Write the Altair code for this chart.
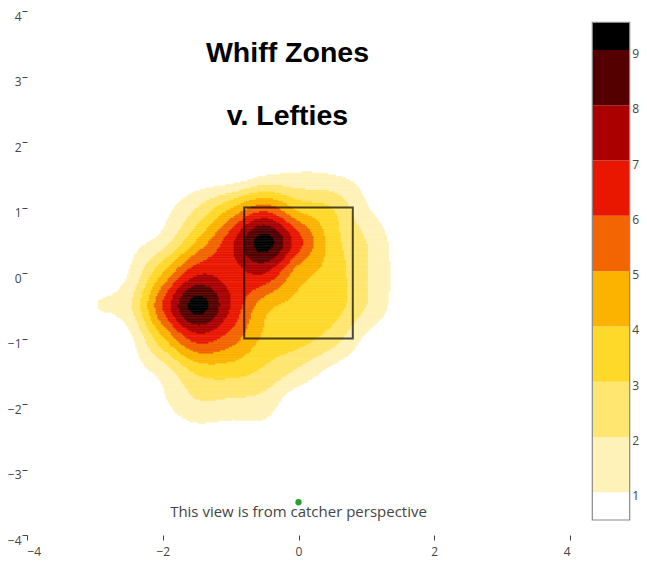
import altair as alt
import numpy as np
import pandas as pd

# ---------------- data ----------------
# z grid nodes of the whiff-density surface, 0.5 ft spacing
X_NODES = [-3.5, -3.0, -2.5, -2.0, -1.5, -1.0, -0.5, 0.0, 0.5, 1.0, 1.5, 2.0]
Y_NODES = [2.0, 1.5, 1.0, 0.5, 0.0, -0.5, -1.0, -1.5, -2.0, -2.5, -3.0]
z_y2p0 = [0, 0, 0, 0, 0, 0, 0.4, 0.6, 0.5, 0.2, 0, 0]
z_y1p5 = [0, 0, 0, 0, 0.2, 0.1, 0.9, 1.1, 1.0, 0.6, 0.1, 0]
z_y1p0 = [0, 0, 0.1, 0.6, 2.0, 3.9, 5.5, 3.7, 3.0, 1.1, 0.3, 0]
z_y0p5 = [0, 0.2, 0.6, 1.4, 4.0, 6.6, 9.4, 6.4, 3.5, 2.0, 0.5, 0]
z_y0p0 = [0, 0.4, 1.0, 4.0, 6.8, 6.6, 7.0, 4.5, 3.6, 2.05, 0.6, 0]
z_ym0p5 = [0.2, 0.95, 1.7, 6.0, 9.4, 7.0, 4.4, 3.7, 3.5, 2.0, 0.5, 0]
z_ym1p0 = [0, 0.3, 0.7, 3.8, 6.4, 5.5, 3.8, 3.4, 2.5, 0.8, 0.2, 0]
z_ym1p5 = [0, 0.1, 0.5, 1.4, 3.2, 3.4, 2.8, 1.8, 0.7, 0.2, 0, 0]
z_ym2p0 = [0, 0, 0.1, 0.8, 1.8, 1.7, 1.5, 0.2, 0.2, 0, 0, 0]
z_ym2p5 = [0, 0, 0, 0.3, 0.5, 0.4, 0.5, 0.3, 0, 0, 0, 0]
z_ym3p0 = [0, 0, 0, 0, 0, 0, 0, 0, 0, 0, 0, 0]
Z_ROWS = [z_y2p0, z_y1p5, z_y1p0, z_y0p5, z_y0p0, z_ym0p5, z_ym1p0,
          z_ym1p5, z_ym2p0, z_ym2p5, z_ym3p0]

# contour levels and band colours
LEVELS = [1, 2, 3, 4, 5, 6, 7, 8, 9]
BAND_COLORS = ["#ffffff", "#fff2b8", "#ffe671", "#ffd92a", "#fbb300",
               "#f26500", "#e91700", "#aa0000", "#550000", "#000000"]
CB_LOW = [0.5, 1, 2, 3, 4, 5, 6, 7, 8, 9]
CB_HIGH = [1, 2, 3, 4, 5, 6, 7, 8, 9, 9.5]

# strike zone
SZ_X = [-0.8, 0.8]
SZ_Y = [-1.0, 1.0]
# catcher marker
DOT_X = [0]
DOT_Y = [-3.5]

X_TICKS = [-4, -2, 0, 2, 4]
Y_TICKS = [-4, -3, -2, -1, 0, 1, 2, 3, 4]

# ------------- contour fill: smooth (cubic) interpolation between grid
# nodes, as a smoothed contour renderer does, then banded by level -------------
zg = np.array(Z_ROWS[::-1], dtype=float)      # rows ascending in y
xs = np.array(X_NODES)
ys = np.array(Y_NODES[::-1])
step = 0.025
fx = np.arange(xs[0], xs[-1], step) + step / 2
fy = np.arange(ys[0], ys[-1], step) + step / 2


def cubic_weights(nodes, pts):
    n = len(nodes)
    h = nodes[1] - nodes[0]
    Wm = np.zeros((len(pts), n))
    for r, p in enumerate(pts):
        i = int(np.clip(np.floor((p - nodes[0]) / h), 0, n - 2))
        t = (p - nodes[i]) / h
        w = [(-t ** 3 + 2 * t ** 2 - t) / 2, (3 * t ** 3 - 5 * t ** 2 + 2) / 2,
             (-3 * t ** 3 + 4 * t ** 2 + t) / 2, (t ** 3 - t ** 2) / 2]
        for k, wk in zip(range(i - 1, i + 3), w):
            Wm[r, int(np.clip(k, 0, n - 1))] += wk
    return Wm


zf = cubic_weights(ys, fy) @ zg @ cubic_weights(xs, fx).T

recs = []
for r, yc in enumerate(fy):
    band = np.searchsorted(LEVELS, zf[r], side="right")
    start = 0
    for k in range(1, len(fx) + 1):
        if k == len(fx) or band[k] != band[start]:
            if band[start] > 0:
                recs.append({"x1": fx[start] - step / 2, "x2": fx[k - 1] + step / 2,
                             "y1": yc - step / 2, "y2": yc + step / 2,
                             "band": int(band[start])})
            start = k
cells = pd.DataFrame(recs)

LEFT, TOP = 19, 3
W, H = 543, 524
RIGHT = 631 - LEFT - W          # keeps the page at 647 px wide
xsc = alt.Scale(domain=[-4, 4], nice=False, zero=False)
ysc = alt.Scale(domain=[-4, 4], nice=False, zero=False)
csc = alt.Scale(domain=list(range(10)), range=BAND_COLORS)

contour = alt.Chart(cells).mark_rect(strokeWidth=0.6).encode(
    x=alt.X("x1:Q", scale=xsc, axis=alt.Axis(values=X_TICKS, format="d", title=None,
                                              tickSize=5, labelPadding=6,
                                              grid=False, domain=False)),
    x2="x2:Q",
    y=alt.Y("y1:Q", scale=ysc, axis=alt.Axis(values=Y_TICKS, format="d", title=None,
                                              tickSize=5, labelPadding=1, labelOffset=5,
                                              grid=False, domain=False)),
    y2="y2:Q",
    color=alt.Color("band:O", scale=csc, legend=None),
    stroke=alt.Stroke("band:O", scale=csc, legend=None),
)

sz = alt.Chart(pd.DataFrame({"x1": [SZ_X[0]], "x2": [SZ_X[1]],
                             "y1": [SZ_Y[0]], "y2": [SZ_Y[1]]})).mark_rect(
    fillOpacity=0, stroke="#000000", strokeOpacity=0.7, strokeWidth=2).encode(
    x=alt.X("x1:Q", scale=xsc), x2="x2:Q", y=alt.Y("y1:Q", scale=ysc), y2="y2:Q")

dot = alt.Chart(pd.DataFrame({"x": DOT_X, "y": DOT_Y})).mark_circle(
    size=40, color="#2ca02c", opacity=1).encode(
    x=alt.X("x:Q", scale=xsc), y=alt.Y("y:Q", scale=ysc))

note = alt.Chart(pd.DataFrame({"x": [0], "t": ["This view is from catcher perspective"]})
                 ).mark_text(font="Open Sans", fontSize=15, color="#444444",
                             baseline="alphabetic", align="center").encode(
    x=alt.X("x:Q", scale=xsc), y=alt.value(517 - 8 - TOP), text="t:N")

title1 = alt.Chart(pd.DataFrame({"t": ["Whiff Zones"]})).mark_text(
    font="Liberation Sans", fontWeight="bold", fontSize=28.5, color="#000000",
    baseline="alphabetic", align="center").encode(
    x=alt.value(287.5 - 8 - LEFT), y=alt.value(61.7 - 8 - TOP), text="t:N")
title2 = alt.Chart(pd.DataFrame({"t": ["v. Lefties"]})).mark_text(
    font="Liberation Sans", fontWeight="bold", fontSize=28.5, color="#000000",
    baseline="alphabetic", align="center").encode(
    x=alt.value(287.5 - 8 - LEFT), y=alt.value(125 - 8 - TOP), text="t:N")

main = alt.layer(contour, sz, dot, note, title1, title2)

# ---------------- colour bar ----------------
CB_X1, CB_X2, CB_LX = 592.3 - 8 - LEFT, 629.7 - 8 - LEFT, 632.3 - 8 - LEFT
cbsc = alt.Scale(domain=[0.5, 9.5], range=[520 - 8 - TOP, 22.3 - 8 - TOP],
                 nice=False, zero=False)
cb_df = pd.DataFrame({"lo": CB_LOW, "hi": CB_HIGH, "band": list(range(10))})
cb_bins = alt.Chart(cb_df).mark_rect().encode(
    x=alt.value(CB_X1), x2=alt.value(CB_X2),
    y=alt.Y("lo:Q", scale=cbsc, axis=None), y2="hi:Q",
    color=alt.Color("band:O", scale=csc, legend=None))
cb_box = alt.Chart(pd.DataFrame({"lo": [0.5], "hi": [9.5]})).mark_rect(
    fillOpacity=0, stroke="#888888", strokeWidth=1.2).encode(
    x=alt.value(CB_X1), x2=alt.value(CB_X2),
    y=alt.Y("lo:Q", scale=cbsc, axis=None), y2="hi:Q")
cb_lab = alt.Chart(pd.DataFrame({"v": LEVELS, "t": [str(v) for v in LEVELS]})).mark_text(
    font="Open Sans", fontSize=12, color="#444444", align="left", baseline="middle",
    dy=4).encode(
    x=alt.value(CB_LX), y=alt.Y("v:Q", scale=cbsc, axis=None), text="t:N")
cbar = alt.layer(cb_bins, cb_box, cb_lab)

chart = alt.layer(main, cbar).resolve_scale(y="independent").properties(
    width=W, height=H, autosize=alt.AutoSizeParams(type="none"),
    padding={"left": LEFT, "top": TOP, "right": RIGHT, "bottom": 28},
    background="#ffffff",
).configure_view(stroke=None).configure_axis(
    labelFont="Open Sans", labelFontSize=12, labelColor="#444444",
    tickColor="#444444", tickWidth=1)

chart.save("out.html", embed_options={"renderer": "svg", "actions": False})
